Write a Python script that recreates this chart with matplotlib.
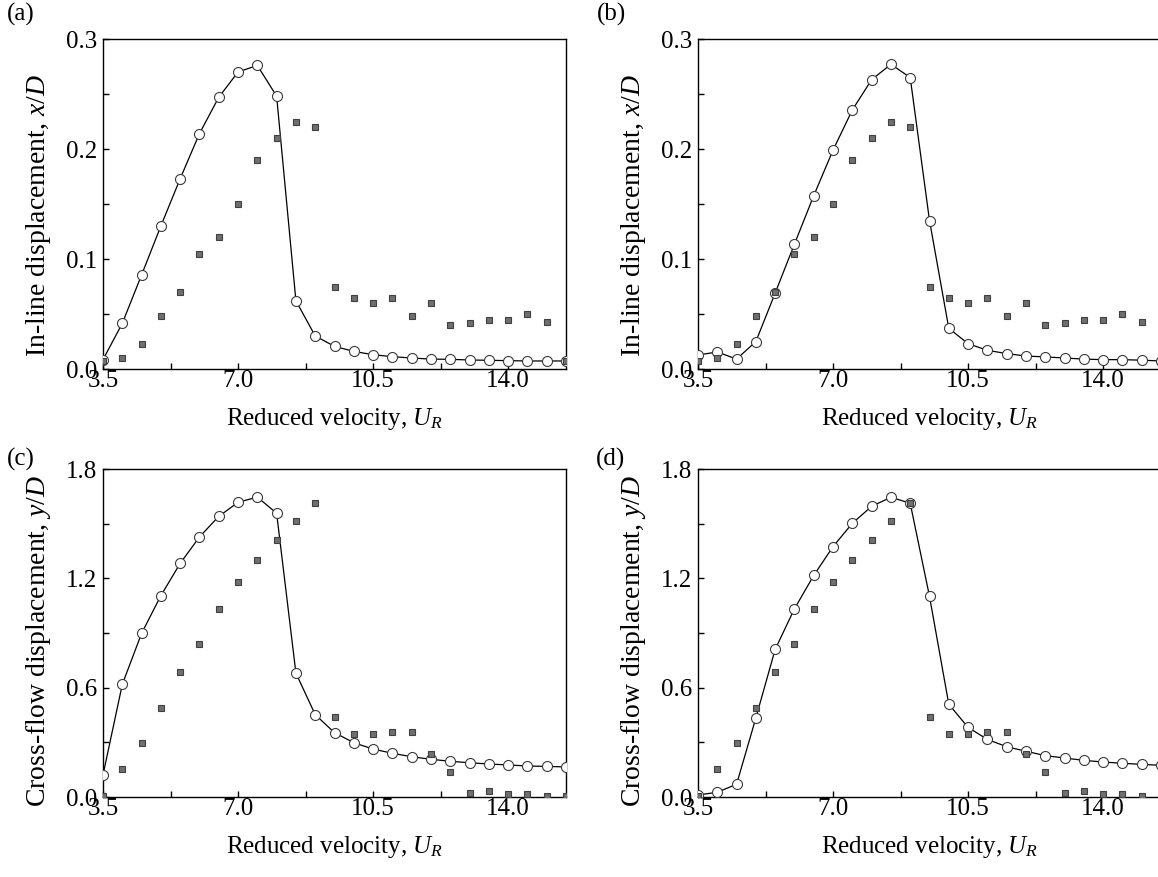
import matplotlib
matplotlib.use('Agg')
import matplotlib.pyplot as plt
from matplotlib.ticker import MultipleLocator, FormatStrFormatter

plt.rcParams['font.family'] = ['Liberation Serif', 'DejaVu Serif']
plt.rcParams['mathtext.fontset'] = 'custom'
plt.rcParams['mathtext.rm'] = 'Liberation Serif'
plt.rcParams['mathtext.it'] = 'Liberation Serif:italic'
plt.rcParams['font.size'] = 18

# reduced velocity U_R
ur = [3.5, 4.0, 4.5, 5.0, 5.5, 6.0, 6.5, 7.0, 7.5, 8.0, 8.5, 9.0, 9.5,
      10.0, 10.5, 11.0, 11.5, 12.0, 12.5, 13.0, 13.5, 14.0, 14.5, 15.0, 15.5]

# experiment (squares), same in both columns
exp_x = [0.0076, 0.010, 0.023, 0.048, 0.070, 0.105, 0.120, 0.150, 0.190, 0.210,
         0.225, 0.220, 0.075, 0.065, 0.060, 0.065, 0.048, 0.060, 0.040, 0.042,
         0.045, 0.045, 0.050, 0.043, 0.0073]
exp_y = [0.008, 0.155, 0.296, 0.487, 0.688, 0.838, 1.030, 1.180, 1.301, 1.412,
         1.513, 1.612, 0.437, 0.346, 0.346, 0.355, 0.355, 0.236, 0.135, 0.024,
         0.035, 0.016, 0.016, 0.007, 0.007]

# simulation (circles)
sim_x_a = [0.0085, 0.0415, 0.0855, 0.130, 0.173, 0.214, 0.247, 0.270, 0.276, 0.248,
           0.062, 0.030, 0.0206, 0.016, 0.013, 0.0112, 0.010, 0.009, 0.0088, 0.0082,
           0.0079, 0.0076, 0.0073, 0.0073, 0.0073]
sim_x_b = [0.0127, 0.0155, 0.009, 0.025, 0.069, 0.1136, 0.1576, 0.199, 0.2355, 0.263,
           0.277, 0.265, 0.135, 0.037, 0.023, 0.017, 0.014, 0.0118, 0.011, 0.010,
           0.009, 0.0085, 0.0085, 0.008, 0.0073]
sim_y_c = [0.121, 0.618, 0.898, 1.105, 1.282, 1.427, 1.540, 1.617, 1.646, 1.557,
           0.680, 0.452, 0.353, 0.298, 0.263, 0.240, 0.221, 0.207, 0.196, 0.188,
           0.181, 0.176, 0.170, 0.168, 0.165]
sim_y_d = [0.011, 0.026, 0.070, 0.434, 0.810, 1.033, 1.216, 1.374, 1.502, 1.595,
           1.645, 1.612, 1.101, 0.509, 0.382, 0.316, 0.276, 0.251, 0.227, 0.214,
           0.201, 0.192, 0.185, 0.179, 0.174]

panels = ['(a)', '(b)', '(c)', '(d)']
ylabels = ['In-line displacement, $x/D$', 'In-line displacement, $x/D$',
           'Cross-flow displacement, $y/D$', 'Cross-flow displacement, $y/D$']

fig = plt.figure(figsize=(11.58, 8.77), dpi=100)
W, H = 1158, 877
# axes boxes in pixels: left, top, right, bottom
boxes = [(103, 39, 566, 369), (698, 39, 1161, 369),
         (103, 469, 566, 797), (698, 469, 1161, 797)]
label_pos = [(7, 3), (597, 3), (7, 448), (596, 448)]
ylab_y = [0.464, 0.464, 0.477, 0.477]
sims = [sim_x_a, sim_x_b, sim_y_c, sim_y_d]
exps = [exp_x, exp_x, exp_y, exp_y]

for i in range(4):
    l, t, r, b = boxes[i]
    ax = fig.add_axes([l / W, 1 - b / H, (r - l) / W, (b - t) / H])
    ax.plot(ur, sims[i], '-', color='black', lw=0.9, zorder=2)
    ax.plot(ur, sims[i], 'o', ms=7.2, mfc='white', mec='#3a3a3a', mew=0.8, zorder=3)
    ax.plot(ur, exps[i], 's', ms=4.6, mfc='#6f6f6f', mec='#404040', mew=0.8,
            ls='none', zorder=4)

    ax.set_xlim(3.5, 15.5)
    ax.xaxis.set_major_locator(MultipleLocator(3.5))
    ax.xaxis.set_minor_locator(MultipleLocator(1.75))
    ax.xaxis.set_major_formatter(FormatStrFormatter('%.1f'))
    if i < 2:
        ax.set_ylim(0, 0.3)
        ax.yaxis.set_major_locator(MultipleLocator(0.1))
        ax.yaxis.set_minor_locator(MultipleLocator(0.05))
    else:
        ax.set_ylim(0, 1.8)
        ax.yaxis.set_major_locator(MultipleLocator(0.6))
        ax.yaxis.set_minor_locator(MultipleLocator(0.3))
    ax.yaxis.set_major_formatter(FormatStrFormatter('%.1f'))

    ax.tick_params(which='both', direction='in', length=4, width=1.0,
                   top=False, right=False, labelsize=18)
    ax.tick_params(axis='x', pad=0.5)
    ax.tick_params(axis='y', pad=4)
    for s in ax.spines.values():
        s.set_linewidth(1.0)

    h = b - t
    ax.set_xlabel('Reduced velocity, $U_R$', fontsize=18, va='baseline')
    ax.xaxis.set_label_coords(0.5, -56 / h)
    ax.set_ylabel(ylabels[i], fontsize=20)
    ax.yaxis.set_label_coords(-50 / (r - l), ylab_y[i])

    px, py = label_pos[i]
    fig.text(px / W, 1 - py / H, panels[i], fontsize=18, va='top', ha='left')

fig.savefig('out.png', dpi=100)
